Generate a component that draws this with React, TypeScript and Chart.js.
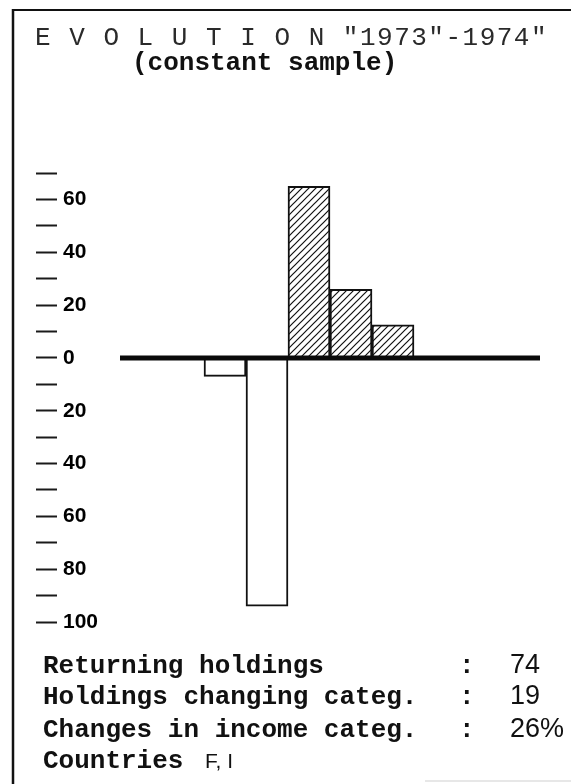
import React, { useEffect, useRef } from 'react';
import { Chart, registerables } from 'chart.js';

Chart.register(...registerables);

// ---- data ----
const incomeClasses = ['1', '2', '3', '4', '5', '6', '7', '8', '9', '10'];
const changePct: (number | null)[] = [null, null, -7, -94, 65, 26, 12.5, null, null, null];

const yMin = -100;
const yMax = 70;
const yStep = 10;
const yLabelled = [60, 40, 20, 0, -20, -40, -60, -80, -100];

const titleText = 'E V O L U T I O N "1973"-1974"';
const subtitleText = '(constant sample)';
const summaryLabels = ['Returning holdings', 'Holdings changing categ.', 'Changes in income categ.'];
const summaryValues = ['74', '19', '26%'];
const countriesLabel = 'Countries';
const countriesValue = 'F, I';

const MONO = '"Liberation Mono", "DejaVu Sans Mono", monospace';
const SANS = '"Liberation Sans", Arial, sans-serif';

export default function App() {
  const ref = useRef<HTMLCanvasElement>(null);

  useEffect(() => {
    const canvas = ref.current!;
    const ctx = canvas.getContext('2d')!;

    // hatch pattern "/"
    const s = 7;
    const pc = document.createElement('canvas');
    pc.width = s;
    pc.height = s;
    const p = pc.getContext('2d')!;
    p.fillStyle = '#ffffff';
    p.fillRect(0, 0, s, s);
    p.strokeStyle = '#111111';
    p.lineWidth = 1.2;
    p.beginPath();
    p.moveTo(0, s);
    p.lineTo(s, 0);
    p.moveTo(-1, 1);
    p.lineTo(1, -1);
    p.moveTo(s - 1, s + 1);
    p.lineTo(s + 1, s - 1);
    p.stroke();
    const hatch = ctx.createPattern(pc, 'repeat')!;

    const barData = incomeClasses
      .map((c, i) => ({ x: i + 0.5, y: changePct[i] }))
      .filter((d) => d.y !== null);

    const chart = new Chart(ctx, {
      type: 'bar',
      data: {
        datasets: [
          {
            type: 'line',
            data: [
              { x: 0, y: 0 },
              { x: incomeClasses.length, y: 0 },
            ],
            borderColor: '#0a0a0a',
            borderWidth: 5,
            pointRadius: 0,
            borderCapStyle: 'butt',
            order: 0,
          } as any,
          {
            type: 'bar',
            data: barData as any,
            backgroundColor: (c: any) => ((c.raw && c.raw.y > 0) ? hatch : '#ffffff'),
            borderColor: '#111111',
            borderWidth: 2,
            borderSkipped: 'start',
            barPercentage: 1,
            categoryPercentage: 1,
            order: 1,
          } as any,
        ],
      },
      options: {
        responsive: false,
        maintainAspectRatio: false,
        animation: false,
        devicePixelRatio: 1,
        events: [],
        layout: { padding: { left: 24, right: 31, top: 173, bottom: 162 } },
        plugins: {
          legend: { display: false },
          tooltip: { enabled: false },
          title: { display: false },
        },
        scales: {
          x: {
            type: 'linear',
            min: -1.5,
            max: incomeClasses.length,
            display: false,
            offset: false,
            ticks: { stepSize: 1, includeBounds: false },
          },
          y: {
            type: 'linear',
            position: 'left',
            min: yMin,
            max: yMax,
            border: { display: false },
            grid: {
              drawOnChartArea: false,
              drawTicks: true,
              tickLength: 21,
              tickWidth: 2,
              tickColor: '#1a1a1a',
            },
            ticks: {
              stepSize: yStep,
              autoSkip: false,
              mirror: true,
              padding: 6,
              color: '#000000',
              font: { family: SANS, weight: 'bold', size: 21 },
              callback: (v: any) =>
                yLabelled.includes(Number(v)) ? String(Math.abs(Number(v))) : '',
            },
          },
        },
      } as any,
    });
    return () => chart.destroy();
  }, []);

  const baselines = [673, 704, 737];

  return (
    <div
      style={{
        position: 'fixed',
        left: 0,
        top: 0,
        width: 571,
        height: 784,
        background: '#ffffff',
        overflow: 'hidden',
      }}
    >
      <canvas
        ref={ref}
        width={571}
        height={784}
        style={{ position: 'absolute', left: 0, top: 0, width: 571, height: 784 }}
      />
      <svg
        width={571}
        height={784}
        style={{ position: 'absolute', left: 0, top: 0, pointerEvents: 'none' }}
      >
        <line x1={12} y1={10} x2={571} y2={10} stroke="#111" strokeWidth={2} />
        <line x1={13} y1={9} x2={13} y2={784} stroke="#111" strokeWidth={2.5} />
        <line x1={425} y1={781} x2={571} y2={781} stroke="#cfcfcf" strokeWidth={1} />

        <text x={35} y={45} fontFamily={MONO} fontSize={26} letterSpacing={1.5} fill="#2a2a2a">
          {titleText}
        </text>
        <text x={132} y={70} fontFamily={MONO} fontSize={26} fontWeight="bold" fill="#111">
          {subtitleText}
        </text>

        {summaryLabels.map((t, i) => (
          <g key={t}>
            <text x={43} y={baselines[i]} fontFamily={MONO} fontSize={26} fontWeight="bold" fill="#111">
              {t}
            </text>
            <text x={459} y={baselines[i]} fontFamily={MONO} fontSize={26} fontWeight="bold" fill="#111">
              :
            </text>
            <text x={510} y={baselines[i]} fontFamily={SANS} fontSize={27} fill="#111">
              {summaryValues[i]}
            </text>
          </g>
        ))}
        <text x={43} y={768} fontFamily={MONO} fontSize={26} fontWeight="bold" fill="#111">
          {countriesLabel}
        </text>
        <text x={205} y={768} fontFamily={SANS} fontSize={21} fill="#111">
          {countriesValue}
        </text>
      </svg>
    </div>
  );
}
